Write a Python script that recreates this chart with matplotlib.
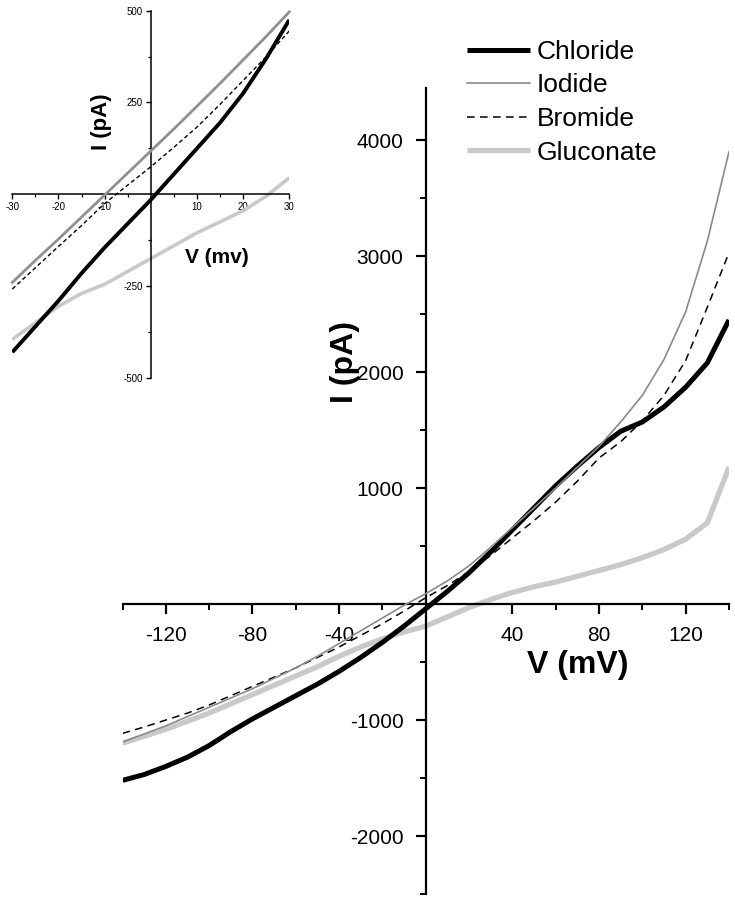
import matplotlib
matplotlib.use("Agg")
import matplotlib.pyplot as plt
from matplotlib.ticker import MultipleLocator, FixedLocator

plt.rcParams['font.family'] = ['Liberation Sans', 'DejaVu Sans']

# ---------------- main plot data ----------------
V_main = [-140, -130, -120, -110, -100, -90, -80, -70, -60, -50, -40, -30, -20, -10,
          0, 10, 20, 30, 40, 50, 60, 70, 80, 90, 100, 110, 120, 130, 140]
chloride = [-1520, -1470, -1400, -1320, -1220, -1100, -990, -890, -790, -690, -580, -460, -330, -190,
            -40, 110, 270, 450, 640, 830, 1020, 1190, 1350, 1490, 1570, 1700, 1870, 2080, 2450]
iodide = [-1190, -1120, -1050, -970, -890, -810, -730, -640, -550, -450, -340, -230, -120, -10,
          90, 200, 330, 490, 660, 830, 1000, 1180, 1360, 1570, 1800, 2110, 2520, 3130, 3900]
bromide = [-1115, -1060, -1000, -940, -870, -790, -710, -630, -550, -460, -370, -270, -170, -60,
           55, 160, 280, 420, 570, 720, 880, 1060, 1260, 1400, 1580, 1800, 2100, 2560, 3030]
gluconate = [-1200, -1140, -1080, -1010, -940, -860, -780, -700, -620, -540, -450, -370, -300, -240,
             -190, -110, -30, 40, 100, 150, 190, 240, 290, 340, 400, 470, 560, 700, 1180]

# ---------------- inset data ----------------
V_in = [-30, -25, -20, -15, -10, -5, 0, 5, 10, 15, 20, 25, 30]
chloride_in = [-430, -360, -290, -215, -145, -80, -15, 55, 125, 195, 275, 370, 475]
iodide_in = [-240, -180, -122, -62, -2, 58, 118, 178, 240, 302, 366, 430, 497]
bromide_in = [-258, -200, -142, -85, -25, 25, 75, 128, 183, 245, 310, 375, 445]
gluconate_in = [-395, -350, -305, -270, -245, -210, -175, -140, -105, -75, -45, -5, 45]

main_xticks = [-120, -80, -40, 40, 80, 120]
main_yticks = [-2000, -1000, 1000, 2000, 3000, 4000]
inset_xticks = [-30, -20, -10, 10, 20, 30]
inset_yticks = [-500, -250, 250, 500]

C_CL = 'black'
C_I = '#8a8a8a'
C_BR = 'black'
C_GL = '#c9c9c9'

W, H = 735, 899
fig = plt.figure(figsize=(W / 100, H / 100), dpi=100)

# ---------------- main axes ----------------
x0, x1 = 122.5, 729.0
y_top, y_bot = 88.0, 894.0
ax = fig.add_axes([x0 / W, 1 - y_bot / H, (x1 - x0) / W, (y_bot - y_top) / H])
ax.set_facecolor('none')
ax.set_xlim(-140, 140)
ax.set_ylim(-2500, 4450)

ax.plot(V_main, gluconate, color=C_GL, lw=3.8, solid_capstyle='butt', label='Gluconate', zorder=2)
ax.plot(V_main, chloride, color=C_CL, lw=3.6, solid_capstyle='butt', label='Chloride', zorder=3)
ax.plot(V_main, bromide, color=C_BR, lw=1.1, dashes=(5, 3.5), label='Bromide', zorder=4)
ax.plot(V_main, iodide, color=C_I, lw=1.2, label='Iodide', zorder=5)

for s in ['top', 'right']:
    ax.spines[s].set_visible(False)
ax.spines['left'].set_position(('data', 0))
ax.spines['bottom'].set_position(('data', 0))
for s in ['left', 'bottom']:
    ax.spines[s].set_linewidth(1.6)

ax.xaxis.set_major_locator(FixedLocator(main_xticks))
ax.xaxis.set_minor_locator(FixedLocator([-140, -100, -60, -20, 20, 60, 100, 140]))
ax.yaxis.set_major_locator(FixedLocator(main_yticks))
ax.yaxis.set_minor_locator(FixedLocator([-2500, -1500, -500, 500, 1500, 2500, 3500]))
ax.tick_params(axis='both', which='major', direction='out', length=7, width=1.6,
               labelsize=15, pad=9)
ax.tick_params(axis='both', which='minor', direction='out', length=4, width=1.4)
ax.set_xticklabels([str(t) for t in main_xticks])
ax.set_yticklabels([str(t) for t in main_yticks])

fig.text(578 / W, 1 - 665 / H, 'V (mV)', fontsize=23, fontweight='bold',
         ha='center', va='center')
fig.text(345 / W, 1 - 362 / H, 'I (pA)', fontsize=23, fontweight='bold',
         ha='center', va='center', rotation=90)

# legend
handles, labels = ax.get_legend_handles_labels()
order = ['Chloride', 'Iodide', 'Bromide', 'Gluconate']
hl = dict(zip(labels, handles))
leg = fig.legend([hl[k] for k in order], order, loc='upper left',
                 bbox_to_anchor=(467 / W, 1 - 40 / H), frameon=False,
                 fontsize=19, handlelength=2.4, handletextpad=0.25,
                 labelspacing=0.36, borderpad=0, borderaxespad=0)

# ---------------- inset axes ----------------
ix0, ix1 = 12.3, 289.3
iy_top, iy_bot = 10.7, 377.9
axi = fig.add_axes([ix0 / W, 1 - iy_bot / H, (ix1 - ix0) / W, (iy_bot - iy_top) / H])
axi.set_facecolor('none')
axi.set_xlim(-30, 30)
axi.set_ylim(-500, 500)

axi.plot(V_in, gluconate_in, color=C_GL, lw=2.6, solid_capstyle='butt', zorder=2)
axi.plot(V_in, chloride_in, color=C_CL, lw=2.8, solid_capstyle='butt', zorder=3)
axi.plot(V_in, bromide_in, color=C_BR, lw=1.0, dashes=(3, 2), zorder=4)
axi.plot(V_in, iodide_in, color='#909090', lw=2.0, zorder=5, clip_on=False)

for s in ['top', 'right']:
    axi.spines[s].set_visible(False)
axi.spines['left'].set_position(('data', 0))
axi.spines['bottom'].set_position(('data', 0))
for s in ['left', 'bottom']:
    axi.spines[s].set_linewidth(1.1)
axi.xaxis.set_major_locator(FixedLocator(inset_xticks))
axi.xaxis.set_minor_locator(FixedLocator([-25, -15, -5, 5, 15, 25]))
axi.yaxis.set_major_locator(FixedLocator(inset_yticks))
axi.yaxis.set_minor_locator(FixedLocator([-375, -125, 125, 375]))
axi.tick_params(axis='both', which='major', direction='out', length=3.5, width=1.0,
                labelsize=7, pad=2)
axi.tick_params(axis='both', which='minor', direction='out', length=2, width=0.9)
axi.set_xticklabels([str(t) for t in inset_xticks])
axi.set_yticklabels([str(t) for t in inset_yticks])

fig.text(101 / W, 1 - 122 / H, 'I (pA)', fontsize=16, fontweight='bold',
         ha='center', va='center', rotation=90)
fig.text(217 / W, 1 - 258 / H, 'V (mv)', fontsize=15, fontweight='bold',
         ha='center', va='center')

fig.savefig('out.png', dpi=100)
